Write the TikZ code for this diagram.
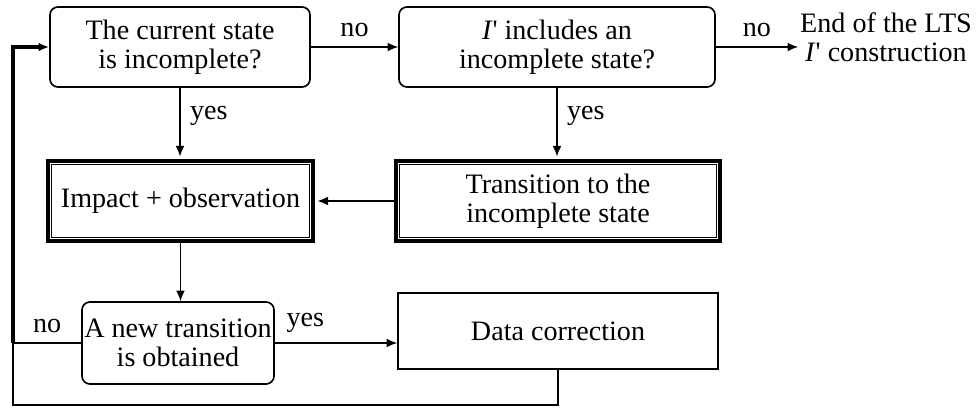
\documentclass[tikz,border=0pt]{standalone}
\usepackage{fontspec}
\setmainfont{Liberation Serif}
\usetikzlibrary{arrows.meta, positioning, calc}
\newcommand{\Ip}{\textit{I}\textquotesingle}

\tikzset{
  txt/.style={font=\fontsize{16}{16.4}\selectfont, align=center},
  qbox/.style={txt, draw, rounded corners=4.5pt, line width=0.95pt, inner sep=0pt},
  dbox/.style={txt, draw, line width=2.5pt, inner sep=0pt},
  pbox/.style={txt, draw, line width=0.95pt, inner sep=0pt},
  arr/.style={-{Latex[length=6pt,width=5pt]}, line width=0.75pt},
}

\begin{document}
\begin{tikzpicture}
\useasboundingbox (0,0) rectangle (19.52,-8.18);

% decisions
\node[qbox, minimum width=5.2cm, minimum height=1.6cm] (cur) at (3.6,-0.94)
     {The current state\\is incomplete?};
\node[qbox, minimum width=6.32cm, minimum height=1.6cm] (inc) at (11.14,-0.94)
     {\Ip{} includes an\\incomplete state?};
\node[txt, inner sep=1pt] (fin) at (17.72,-0.74) {End of the LTS\\\Ip{} construction};

% actions
\node[dbox, minimum width=5.3cm, minimum height=1.6cm] (imp) at (3.61,-4.02)
     {Impact + observation};
\node[dbox, minimum width=6.48cm, minimum height=1.6cm] (tra) at (11.16,-4.02)
     {Transition to the\\incomplete state};
\foreach \n in {imp, tra}
  \draw[line width=0.6pt] ($(\n.north west)+(3.4pt,-3.4pt)$) rectangle ($(\n.south east)+(-3.4pt,3.4pt)$);

\node[qbox, minimum width=3.84cm, minimum height=1.64cm] (nt) at (3.56,-6.86)
     {A new transition\\is obtained};
\node[pbox, minimum width=6.4cm, minimum height=1.52cm] (dc) at (11.16,-6.62)
     {Data correction};

\coordinate (bot) at (0.26,-8.1);

% connectors
\draw[arr] (cur) -- node[txt, above=2pt] {no} (inc);
\draw[arr] (inc) -- node[txt, above=2pt] {no} (inc.east -| fin.west);
\draw[arr, shorten >=1.3pt] (cur.south) -- node[txt, right=2pt, pos=0.4] {yes} (cur.south |- imp.north);
\draw[arr, shorten >=1.3pt] (inc.south) -- node[txt, right=2pt, pos=0.4] {yes} (inc.south |- tra.north);
\draw[arr, shorten >=1.3pt] (tra) -- (imp);
\draw[arr] (imp.south) -- (imp.south |- nt.north);
\draw[arr] (nt) -- node[txt, above=2pt, pos=0.25] {yes} (nt.east -| dc.west);

% loop back
\draw[line width=0.75pt] (nt.west) -- node[txt, above=2pt] {no} (nt.west -| bot);
\draw[line width=0.75pt] (dc.south) -- (dc.south |- bot) -- (bot) -- (nt.west -| bot);
\draw[-{Latex[length=6pt,width=5pt]}, line width=2.1pt] (nt.west -| bot) -- (cur.west -| bot) -- (cur.west);
\end{tikzpicture}
\end{document}
